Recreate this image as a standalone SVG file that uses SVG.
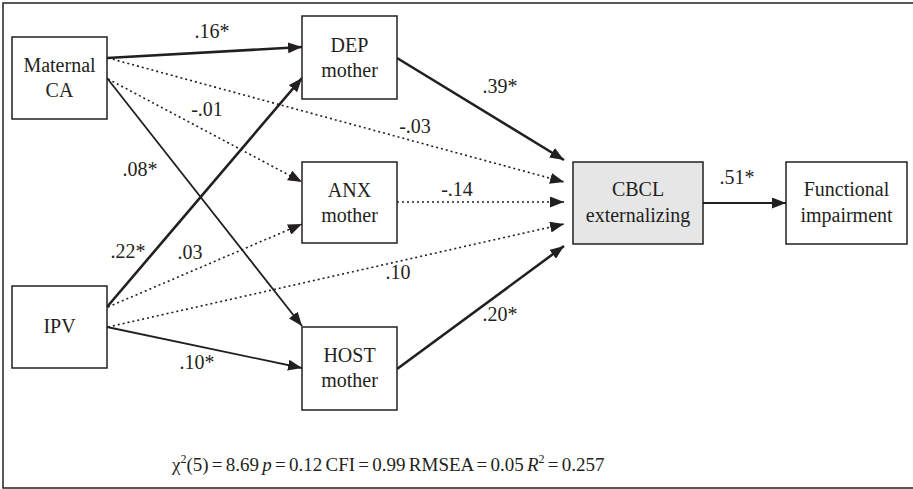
<svg xmlns="http://www.w3.org/2000/svg" width="913" height="489" viewBox="0 0 913 489">
<style>
text{font-family:"Liberation Serif","Times New Roman",serif;font-size:20px;fill:#231f20}
.n text,.lbl{text-anchor:middle}
.box{fill:#fff;stroke:#231f20;stroke-width:1.5}
.grey{fill:#e6e6e6}
.c line{stroke:#231f20;fill:none}
.thick{stroke-width:2.6}
.med{stroke-width:1.8}
.dot{stroke-width:1.6;stroke-dasharray:2 3}
.foot{font-size:19px;word-spacing:-1.5px}
</style>
<defs>
<marker id="ah" markerUnits="userSpaceOnUse" markerWidth="14" markerHeight="11" refX="14" refY="5.5" orient="auto">
<path d="M0,0 L14,5.5 L0,11 z" fill="#231f20"/>
</marker>
</defs>
<rect x="3" y="3" width="914" height="485" fill="#fff" stroke="#231f20" stroke-width="1.5"/>
<g class="c" id="connectors">
<line class="thick" x1="107" y1="58" x2="302" y2="47" marker-end="url(#ah)"/>
<line class="dot" x1="108" y1="58" x2="564" y2="182" marker-end="url(#ah)"/>
<line class="dot" x1="108" y1="79" x2="302" y2="182" marker-end="url(#ah)"/>
<line class="med" x1="107" y1="78" x2="302" y2="326" marker-end="url(#ah)"/>
<line class="thick" x1="107" y1="307" x2="302" y2="78" marker-end="url(#ah)"/>
<line class="dot" x1="108" y1="307" x2="302" y2="224" marker-end="url(#ah)"/>
<line class="dot" x1="108" y1="327" x2="564" y2="224" marker-end="url(#ah)"/>
<line class="med" x1="107" y1="327" x2="302" y2="368" marker-end="url(#ah)"/>
<line class="thick" x1="397" y1="58" x2="564" y2="160" marker-end="url(#ah)"/>
<line class="dot" x1="397" y1="202" x2="564" y2="202" marker-end="url(#ah)"/>
<line class="thick" x1="397" y1="369" x2="564" y2="246" marker-end="url(#ah)"/>
<line class="med" x1="703" y1="203" x2="786" y2="203" marker-end="url(#ah)"/>
</g>
<g id="labels">
<text class="lbl" x="212" y="38">.16*</text>
<text class="lbl" x="207" y="116">-.01</text>
<text class="lbl" x="140" y="176">.08*</text>
<text class="lbl" x="500" y="93">.39*</text>
<text class="lbl" x="415" y="133">-.03</text>
<text class="lbl" x="457" y="196">-.14</text>
<text class="lbl" x="737" y="184">.51*</text>
<text class="lbl" x="128" y="258">.22*</text>
<text class="lbl" x="190" y="259">.03</text>
<text class="lbl" x="398" y="279">.10</text>
<text class="lbl" x="197" y="369">.10*</text>
<text class="lbl" x="500" y="321">.20*</text>
</g>
<g class="n" id="maternal">
<rect class="box" x="12" y="37" width="95" height="82"/>
<text x="59.5" y="72">Maternal</text>
<text x="59.5" y="97">CA</text>
</g>
<g class="n" id="ipv">
<rect class="box" x="12" y="286" width="95" height="82"/>
<text x="59.5" y="333">IPV</text>
</g>
<g class="n" id="dep">
<rect class="box" x="302" y="16" width="95" height="83"/>
<text x="349.5" y="52">DEP</text>
<text x="349.5" y="77">mother</text>
</g>
<g class="n" id="anx">
<rect class="box" x="302" y="162" width="95" height="81"/>
<text x="349.5" y="197">ANX</text>
<text x="349.5" y="222">mother</text>
</g>
<g class="n" id="host">
<rect class="box" x="302" y="327" width="95" height="83"/>
<text x="349.5" y="362">HOST</text>
<text x="349.5" y="387">mother</text>
</g>
<g class="n" id="cbcl">
<rect class="box grey" x="573" y="162" width="130" height="82"/>
<text x="638" y="196">CBCL</text>
<text x="638" y="222">externalizing</text>
</g>
<g class="n" id="functional">
<rect class="box" x="786" y="162" width="121" height="82"/>
<text x="846.5" y="196">Functional</text>
<text x="846.5" y="222">impairment</text>
</g>
<text class="foot" x="172" y="471">χ<tspan font-size="12" dy="-8">2</tspan><tspan dy="8">(5) = 8.69 </tspan><tspan font-style="italic">p</tspan> = 0.12 CFI = 0.99 RMSEA = 0.05 <tspan font-style="italic">R</tspan><tspan font-size="12" dy="-8">2</tspan><tspan dy="8"> = 0.257</tspan></text>
</svg>
